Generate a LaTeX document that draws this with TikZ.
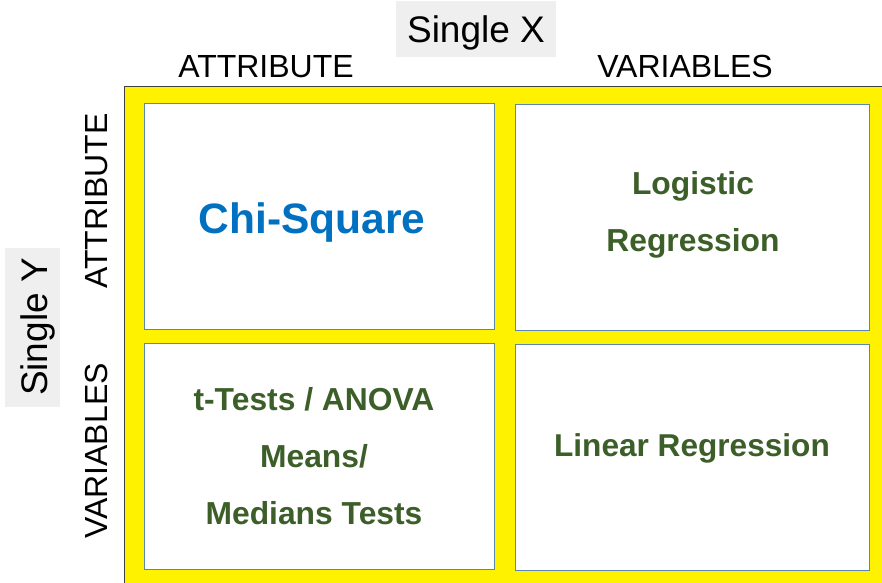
\documentclass[tikz,border=0pt]{standalone}
\usepackage{fontspec}
\setmainfont{Liberation Sans}
\definecolor{cellline}{RGB}{91,134,176}
\definecolor{txtgreen}{RGB}{60,94,40}
\definecolor{txtblue}{RGB}{0,112,192}
\definecolor{boxgray}{RGB}{239,239,239}
\definecolor{outline}{RGB}{64,64,64}
\tikzset{
  cellbox/.style={draw=cellline, line width=1.2pt, fill=white, inner sep=0pt},
  axislbl/.style={font=\fontsize{32}{38}\selectfont, inner sep=0pt, anchor=base},
  titlebox/.style={fill=boxgray, inner sep=0pt},
  titlelbl/.style={font=\fontsize{37}{44}\selectfont, inner sep=0pt, anchor=base},
  greentxt/.style={font=\bfseries\fontsize{31.8}{57}\selectfont, text=txtgreen, align=center, inner sep=0pt},
}
\begin{document}
\begin{tikzpicture}[x=1pt,y=-1pt]
\useasboundingbox (0,0) rectangle (882,582);
% yellow frame
\node[draw=outline, line width=1.2pt, fill=yellow, inner sep=0pt, minimum width=770pt, minimum height=510pt, anchor=north west] (frame) at (124,86) {};
% cells
\node[cellbox, minimum width=350pt, minimum height=226pt, anchor=north west] (c1) at (144,103) {};
\node[cellbox, minimum width=354pt, minimum height=226pt, anchor=north west] (c2) at (515,104) {};
\node[cellbox, minimum width=350pt, minimum height=226pt, anchor=north west] (c3) at (144,343) {};
\node[cellbox, minimum width=354pt, minimum height=226pt, anchor=north west] (c4) at (515,344) {};
% cell texts
\node[font=\bfseries\fontsize{42.5}{50}\selectfont, text=txtblue, inner sep=0pt, anchor=base] (chi) at (312,233) {Chi-Square};
\node[greentxt] (logit) at (693,215) {Logistic\\Regression};
\node[greentxt] (ttest) at (314,456) {t-Tests / ANOVA\\Means/\\Medians Tests};
\node[font=\bfseries\fontsize{31.6}{37}\selectfont, text=txtgreen, inner sep=0pt, anchor=base] (linreg) at (692,456) {Linear Regression};
% top labels
\node[titlebox, minimum width=160pt, minimum height=56pt] (sxbox) at (476,29) {};
\node[titlelbl] (sx) at (476,42) {Single X};
\node[axislbl] (xatt) at (266,77) {ATTRIBUTE};
\node[axislbl] (xvar) at (685,77) {VARIABLES};
% left labels
\node[titlebox, minimum width=159pt, minimum height=55pt, rotate=90] (sybox) at (32.5,327.5) {};
\node[titlelbl, rotate=90] (sy) at (47,327) {Single Y};
\node[axislbl, rotate=90] (yatt) at (107,201) {ATTRIBUTE};
\node[axislbl, rotate=90] (yvar) at (107,451) {VARIABLES};
\end{tikzpicture}
\end{document}
